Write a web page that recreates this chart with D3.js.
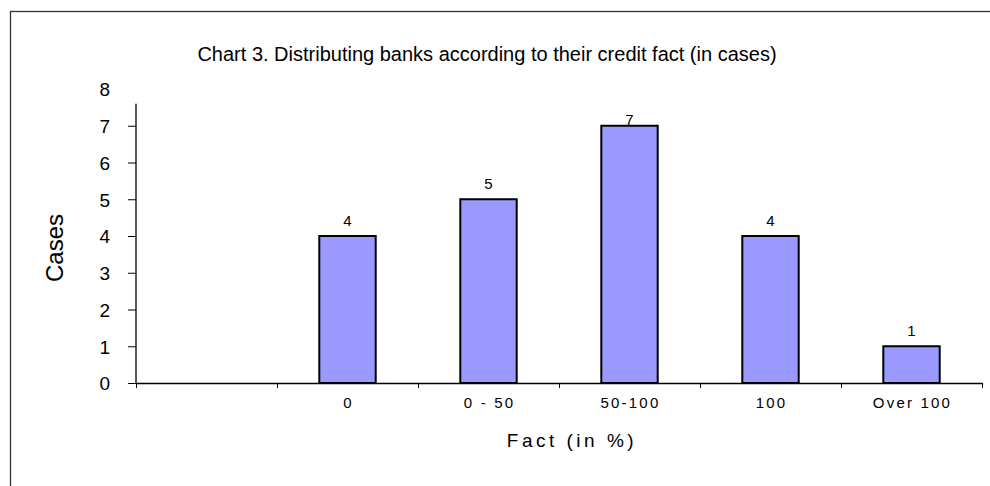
<!DOCTYPE html>
<html>
<head>
<meta charset="utf-8">
<script src="https://cdn.jsdelivr.net/npm/d3@7"></script>
<style>
  body { margin: 0; background: #fff; }
  text { font-family: "Liberation Sans", Arial, sans-serif; fill: #000; }
</style>
</head>
<body>
<div id="chart"></div>
<script>
// categories (the first slot is empty in the original chart)
var categories = ["", "0", "0 - 50", "50-100", "100", "Over 100"];
var cases = [null, 4, 5, 7, 4, 1];
var yTicks = [0, 1, 2, 3, 4, 5, 6, 7, 8];

var width = 990, height = 486;
var margin = {top: 89, right: 8, bottom: 103, left: 136};
var w = width - margin.left - margin.right;
var h = height - margin.top - margin.bottom;

var svg = d3.select("#chart").append("svg")
    .attr("width", width)
    .attr("height", height);

// outer frame (cut by the picture on right and bottom)
svg.append("rect")
    .attr("x", 10.5).attr("y", 11.5)
    .attr("width", 1000).attr("height", 500)
    .attr("fill", "none")
    .attr("stroke", "#333")
    .attr("stroke-width", 1.3);

svg.append("text")
    .attr("x", 487).attr("y", 61)
    .attr("text-anchor", "middle")
    .style("font-size", "20px")
    .text("Chart 3. Distributing banks according to their credit fact (in cases)");

var g = svg.append("g")
    .attr("transform", "translate(" + margin.left + "," + margin.top + ")");

var x = d3.scaleBand()
    .domain(categories.map(function(d, i) { return i; }))
    .range([0, w])
    .paddingInner(0.6)
    .paddingOuter(0.3);

var xEdges = d3.scaleLinear().domain([0, categories.length]).range([0, w]);

var y = d3.scaleLinear().domain([0, 8]).range([h, 0]);

// y axis
var yAxis = g.append("g")
    .call(d3.axisLeft(y).tickValues(yTicks).tickSize(8).tickPadding(18));
yAxis.select(".domain").remove();
yAxis.selectAll(".tick").filter(function(d) { return d === 8; }).select("line").remove();
yAxis.selectAll("text").style("font-size", "19px").attr("dy", "0.36em");
g.append("line")
    .attr("x1", 0).attr("x2", 0)
    .attr("y1", y(0)).attr("y2", y(7.6))
    .attr("stroke", "#000").attr("stroke-width", 1.3);

// x axis: tick marks at category edges
var xAxis = g.append("g")
    .attr("transform", "translate(0," + h + ")")
    .call(d3.axisBottom(xEdges).tickValues(d3.range(categories.length + 1)).tickFormat("").tickSize(5).tickSizeOuter(0));
xAxis.select(".domain").attr("stroke-width", 1.3);

// x labels
g.append("g").selectAll("text")
    .data(categories)
    .enter().append("text")
    .attr("x", function(d, i) { return x(i) + x.bandwidth() / 2 + 1; })
    .attr("y", h + 25)
    .attr("text-anchor", "middle")
    .style("font-size", "15px")
    .style("letter-spacing", "2.2px")
    .text(function(d) { return d; });

// bars
var data = categories.map(function(c, i) { return {i: i, v: cases[i]}; })
    .filter(function(d) { return d.v !== null; });

g.selectAll(".bar")
    .data(data)
    .enter().append("rect")
    .attr("class", "bar")
    .attr("x", function(d) { return x(d.i); })
    .attr("width", x.bandwidth())
    .attr("y", function(d) { return y(d.v); })
    .attr("height", function(d) { return h - y(d.v); })
    .attr("fill", "#9999ff")
    .attr("stroke", "#000")
    .attr("stroke-width", 2);

g.selectAll(".val")
    .data(data)
    .enter().append("text")
    .attr("class", "val")
    .attr("x", function(d) { return x(d.i) + x.bandwidth() / 2; })
    .attr("y", function(d) { return Math.max(y(d.v) - 10, y(7) - 1); })
    .attr("text-anchor", "middle")
    .style("font-size", "15px")
    .text(function(d) { return d.v; });

// axis titles
svg.append("text")
    .attr("transform", "translate(63,248) rotate(-90)")
    .attr("text-anchor", "middle")
    .style("font-size", "24px")
    .text("Cases");

svg.append("text")
    .attr("x", 572).attr("y", 447)
    .attr("text-anchor", "middle")
    .style("font-size", "19px")
    .style("letter-spacing", "3.5px")
    .text("Fact (in %)");
</script>
</body>
</html>
